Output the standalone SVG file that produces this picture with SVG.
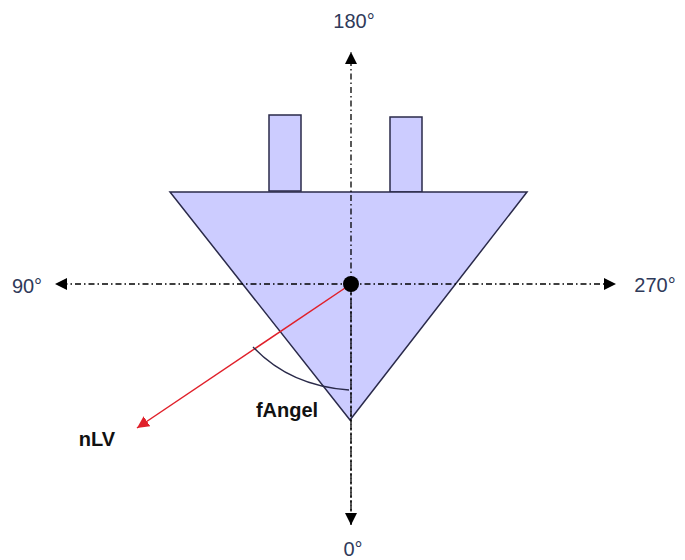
<svg xmlns="http://www.w3.org/2000/svg" width="685" height="560" viewBox="0 0 685 560">
<defs>
<marker id="ab" viewBox="0 0 10 10" refX="10" refY="5" markerWidth="12" markerHeight="12" markerUnits="userSpaceOnUse" orient="auto"><path d="M0,0 L10,5 L0,10 z" fill="#000"/></marker>
<marker id="ar" viewBox="0 0 10 10" refX="10" refY="5" markerWidth="12" markerHeight="12" markerUnits="userSpaceOnUse" orient="auto"><path d="M0,0 L10,5 L0,10 z" fill="#e0202a"/></marker>
</defs>
<style>
.shape{fill:#ccccff;stroke:#2a2a4a;stroke-width:1.5}
.axis{stroke:#000;stroke-width:1.3;stroke-dasharray:6,3,1.5,3;fill:none}
.lbl{font-family:"Liberation Sans",Arial,sans-serif;font-size:20px;fill:#2f3a5a}
.blbl{font-family:"Liberation Sans",Arial,sans-serif;font-size:20px;font-weight:bold;fill:#111}
</style>
<rect width="685" height="560" fill="#fff"/>
<g id="body">
<rect class="shape" x="269" y="115" width="32" height="76"/>
<rect class="shape" x="390" y="117" width="32" height="75"/>
<polygon class="shape" points="170,192 527,192 350,420"/>
</g>
<g id="connectors">
<line class="axis" x1="351" y1="525" x2="351" y2="52" marker-end="url(#ab)"/>
<line class="axis" x1="351" y1="284" x2="351" y2="525" marker-end="url(#ab)"/>
<line class="axis" x1="351" y1="284" x2="55" y2="284" marker-end="url(#ab)"/>
<line class="axis" x1="351" y1="284" x2="616" y2="284" marker-end="url(#ab)"/>
<line x1="351" y1="284" x2="137" y2="428" stroke="#e0202a" stroke-width="1.5" marker-end="url(#ar)"/>
<path d="M253,347 Q290,386 349,390" fill="none" stroke="#2a2a4a" stroke-width="1.3"/>
</g>
<g id="center"><circle cx="351" cy="284" r="8" fill="#000"/></g>
<g id="labels">
<text class="lbl" x="354" y="28" text-anchor="middle">180°</text>
<text class="lbl" x="27" y="293" text-anchor="middle">90°</text>
<text class="lbl" x="655" y="292" text-anchor="middle">270°</text>
<text class="lbl" x="353" y="556" text-anchor="middle">0°</text>
<text class="blbl" x="287" y="417" text-anchor="middle">fAngel</text>
<text class="blbl" x="97" y="446" text-anchor="middle">nLV</text>
</g>
</svg>
